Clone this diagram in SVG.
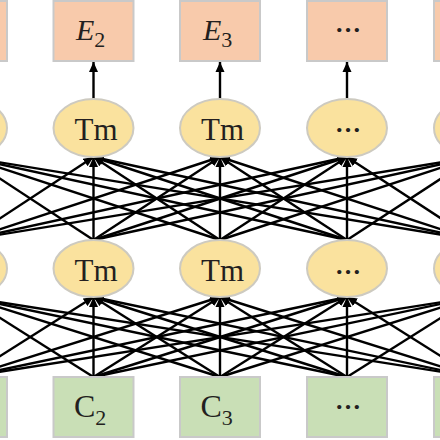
<svg xmlns="http://www.w3.org/2000/svg" width="440" height="440" viewBox="0 0 440 440">
<style>
.eb{fill:#f8caab;stroke:#c9c9c9;stroke-width:2}
.cb{fill:#c9dfb6;stroke:#c9c9c9;stroke-width:2}
.tm{fill:#fae29e;stroke:#cdcac0;stroke-width:2}
.t{font-family:"Liberation Serif","Times New Roman",serif;fill:#231f20}
.d{font-family:"Liberation Serif","Times New Roman",serif;fill:#231f20;font-size:26px;font-weight:bold;text-anchor:middle}
.c line{stroke:#000;stroke-width:2.4;marker-end:url(#ah)}
</style>
<defs>
<marker id="ah" viewBox="0 0 10 10" refX="10" refY="5" markerWidth="10" markerHeight="10" markerUnits="userSpaceOnUse" orient="auto">
<path d="M0,0.5 L10,5 L0,9.5 z" fill="#000"/>
</marker>
</defs>
<rect width="440" height="440" fill="#fff"/>
<g id="connectors" class="c">
<line x1="-33" y1="99" x2="-33" y2="62"/>
<line x1="93.5" y1="99" x2="93.5" y2="62"/>
<line x1="220" y1="99" x2="220" y2="62"/>
<line x1="347" y1="99" x2="347" y2="62"/>
<line x1="474" y1="99" x2="474" y2="62"/>
<line x1="-33" y1="240" x2="-33" y2="157"/>
<line x1="-33" y1="240" x2="93.5" y2="157"/>
<line x1="-33" y1="240" x2="220" y2="157"/>
<line x1="-33" y1="240" x2="347" y2="157"/>
<line x1="-33" y1="240" x2="474" y2="157"/>
<line x1="93.5" y1="240" x2="-33" y2="157"/>
<line x1="93.5" y1="240" x2="93.5" y2="157"/>
<line x1="93.5" y1="240" x2="220" y2="157"/>
<line x1="93.5" y1="240" x2="347" y2="157"/>
<line x1="93.5" y1="240" x2="474" y2="157"/>
<line x1="220" y1="240" x2="-33" y2="157"/>
<line x1="220" y1="240" x2="93.5" y2="157"/>
<line x1="220" y1="240" x2="220" y2="157"/>
<line x1="220" y1="240" x2="347" y2="157"/>
<line x1="220" y1="240" x2="474" y2="157"/>
<line x1="347" y1="240" x2="-33" y2="157"/>
<line x1="347" y1="240" x2="93.5" y2="157"/>
<line x1="347" y1="240" x2="220" y2="157"/>
<line x1="347" y1="240" x2="347" y2="157"/>
<line x1="347" y1="240" x2="474" y2="157"/>
<line x1="474" y1="240" x2="-33" y2="157"/>
<line x1="474" y1="240" x2="93.5" y2="157"/>
<line x1="474" y1="240" x2="220" y2="157"/>
<line x1="474" y1="240" x2="347" y2="157"/>
<line x1="474" y1="240" x2="474" y2="157"/>
<line x1="-33" y1="377" x2="-33" y2="297"/>
<line x1="-33" y1="377" x2="93.5" y2="297"/>
<line x1="-33" y1="377" x2="220" y2="297"/>
<line x1="-33" y1="377" x2="347" y2="297"/>
<line x1="-33" y1="377" x2="474" y2="297"/>
<line x1="93.5" y1="377" x2="-33" y2="297"/>
<line x1="93.5" y1="377" x2="93.5" y2="297"/>
<line x1="93.5" y1="377" x2="220" y2="297"/>
<line x1="93.5" y1="377" x2="347" y2="297"/>
<line x1="93.5" y1="377" x2="474" y2="297"/>
<line x1="220" y1="377" x2="-33" y2="297"/>
<line x1="220" y1="377" x2="93.5" y2="297"/>
<line x1="220" y1="377" x2="220" y2="297"/>
<line x1="220" y1="377" x2="347" y2="297"/>
<line x1="220" y1="377" x2="474" y2="297"/>
<line x1="347" y1="377" x2="-33" y2="297"/>
<line x1="347" y1="377" x2="93.5" y2="297"/>
<line x1="347" y1="377" x2="220" y2="297"/>
<line x1="347" y1="377" x2="347" y2="297"/>
<line x1="347" y1="377" x2="474" y2="297"/>
<line x1="474" y1="377" x2="-33" y2="297"/>
<line x1="474" y1="377" x2="93.5" y2="297"/>
<line x1="474" y1="377" x2="220" y2="297"/>
<line x1="474" y1="377" x2="347" y2="297"/>
<line x1="474" y1="377" x2="474" y2="297"/>
</g>
<g id="e1"><rect class="eb" x="-73" y="1" width="80" height="60"/></g>
<g id="e2"><rect class="eb" x="53.5" y="1" width="80" height="60"/><text class="t" x="76" y="40" font-size="30" font-style="italic">E<tspan font-style="normal" font-size="22" y="47">2</tspan></text></g>
<g id="e3"><rect class="eb" x="180" y="1" width="80" height="60"/><text class="t" x="203" y="40" font-size="30" font-style="italic">E<tspan font-style="normal" font-size="22" y="47">3</tspan></text></g>
<g id="e4"><rect class="eb" x="307" y="1" width="80" height="60"/><text class="d" x="348" y="32">…</text></g>
<g id="e5"><rect class="eb" x="434" y="1" width="80" height="60"/></g>
<g id="tu1"><ellipse class="tm" cx="-33" cy="128" rx="40" ry="29"/></g>
<g id="tu2"><ellipse class="tm" cx="93.5" cy="128" rx="40" ry="29"/><text class="t" x="96" y="140" font-size="31" text-anchor="middle">Tm</text></g>
<g id="tu3"><ellipse class="tm" cx="220" cy="128" rx="40" ry="29"/><text class="t" x="222.5" y="140" font-size="31" text-anchor="middle">Tm</text></g>
<g id="tu4"><ellipse class="tm" cx="347" cy="128" rx="40" ry="29"/><text class="d" x="348" y="132">…</text></g>
<g id="tu5"><ellipse class="tm" cx="474" cy="128" rx="40" ry="29"/></g>
<g id="tl1"><ellipse class="tm" cx="-33" cy="268.5" rx="40" ry="28.5"/></g>
<g id="tl2"><ellipse class="tm" cx="93.5" cy="268.5" rx="40" ry="28.5"/><text class="t" x="96" y="280.5" font-size="31" text-anchor="middle">Tm</text></g>
<g id="tl3"><ellipse class="tm" cx="220" cy="268.5" rx="40" ry="28.5"/><text class="t" x="222.5" y="280.5" font-size="31" text-anchor="middle">Tm</text></g>
<g id="tl4"><ellipse class="tm" cx="347" cy="268.5" rx="40" ry="28.5"/><text class="d" x="348" y="274">…</text></g>
<g id="tl5"><ellipse class="tm" cx="474" cy="268.5" rx="40" ry="28.5"/></g>
<g id="c1"><rect class="cb" x="-73" y="377" width="80" height="60"/></g>
<g id="c2"><rect class="cb" x="53.5" y="377" width="80" height="60"/><text class="t" x="74" y="417" font-size="32">C<tspan font-size="22" y="425">2</tspan></text></g>
<g id="c3"><rect class="cb" x="180" y="377" width="80" height="60"/><text class="t" x="200.5" y="417" font-size="32">C<tspan font-size="22" y="425">3</tspan></text></g>
<g id="c4"><rect class="cb" x="307" y="377" width="80" height="60"/><text class="d" x="348" y="409">…</text></g>
<g id="c5"><rect class="cb" x="434" y="377" width="80" height="60"/></g>
</svg>
